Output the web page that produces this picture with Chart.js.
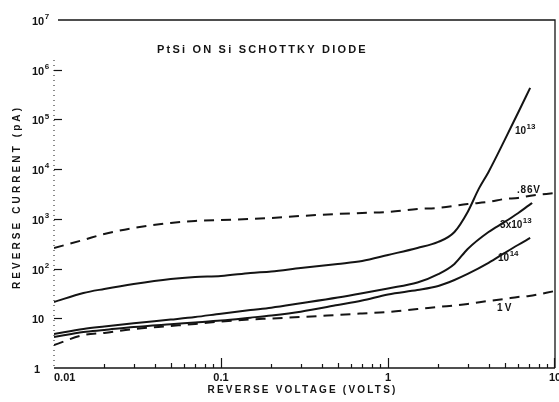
<!DOCTYPE html>
<html>
<head>
<meta charset="utf-8">
<style>
  html, body { margin: 0; padding: 0; background: #fff; }
  #wrap { width: 559px; height: 402px; }
</style>
<script src="https://cdn.jsdelivr.net/npm/chart.js@4.4.1/dist/chart.umd.min.js"></script>
</head>
<body>
<div id="wrap"><canvas id="c" width="559" height="402"></canvas></div>
<script>
// Reverse current (pA) against reverse voltage (V), PtSi on Si Schottky diode
const volts13   = [0.01, 0.015, 0.02, 0.03, 0.05, 0.07, 0.1, 0.15, 0.2, 0.3, 0.5, 0.7, 1, 1.5, 2, 2.5, 3, 3.5, 4, 5, 6, 7.1];
const current13 = [21.3, 32.3, 38.9, 49, 61.8, 67.8, 71, 81.5, 87.5, 103, 124, 142, 188, 260, 343, 545, 1377, 4050, 8790, 38700, 135000, 430000];

const volts3e13   = [0.01, 0.015, 0.02, 0.03, 0.05, 0.07, 0.1, 0.15, 0.2, 0.3, 0.5, 0.7, 1, 1.5, 2, 2.5, 3, 4, 5, 6, 7, 7.3];
const current3e13 = [4.83, 6.09, 6.84, 7.93, 9.42, 10.6, 12.4, 14.6, 16.3, 20.0, 26.1, 31.8, 39.8, 52.3, 77.1, 124, 248, 545, 866, 1297, 1890, 2089];

const volts14   = [0.01, 0.015, 0.02, 0.03, 0.05, 0.07, 0.1, 0.15, 0.2, 0.3, 0.5, 0.7, 1, 1.5, 2, 2.5, 3, 4, 5, 6, 7.1];
const current14 = [4.21, 5.30, 5.82, 6.68, 7.6, 8.23, 8.99, 10.3, 11.4, 13.6, 18.5, 22.8, 30.2, 37.1, 44.7, 59.0, 77.9, 130, 206, 298, 413];

const voltsBarrier = [0.01, 0.015, 0.02, 0.03, 0.05, 0.07, 0.1, 0.15, 0.2, 0.3, 0.5, 0.7, 1, 1.5, 2, 3, 4, 5, 6, 7, 10];
const current086V  = [260, 376, 497, 656, 827, 907, 950, 995, 1042, 1143, 1255, 1314, 1377, 1582, 1657, 1994, 2187, 2514, 2634, 2890, 3318];
const current1V    = [2.90, 4.6, 5.06, 6.09, 7.0, 7.68, 8.6, 9.5, 9.9, 10.6, 11.7, 12.5, 13.4, 15.4, 16.9, 19.4, 22.3, 24.5, 26.8, 28.1, 35.4];

const xTickValues = [0.01, 0.1, 1, 10];
const xTickLabels = ['0.01', '0.1', '1', '10'];
const yTickValues = [1, 10, 100, 1e3, 1e4, 1e5, 1e6, 1e7];
const yTickBase   = ['1', '10', '10', '10', '10', '10', '10', '10'];
const yTickExp    = ['', '', '2', '3', '4', '5', '6', '7'];

const INK = '#141414';
const FONT = '"Liberation Sans", Arial, sans-serif';

function pts(xs, ys) { return xs.map((x, i) => ({ x: x, y: ys[i] })); }

function curve(label, xs, ys, dashed) {
  return {
    label: label,
    data: pts(xs, ys),
    borderColor: INK,
    borderWidth: 2,
    borderDash: dashed ? [10, 7] : [],
    pointRadius: 0,
    fill: false,
    cubicInterpolationMode: 'monotone'
  };
}

function spaced(ctx, text, x, y, spacing) {
  ctx.letterSpacing = spacing + 'px';
  ctx.fillText(text, x, y);
  ctx.letterSpacing = '0px';
}

// Base text with a raised exponent, left aligned at x, vertically centred at y
function powerText(ctx, base, exp, x, y, size) {
  ctx.textAlign = 'left';
  ctx.textBaseline = 'middle';
  ctx.font = 'bold ' + size + 'px ' + FONT;
  ctx.fillText(base, x, y);
  const w = ctx.measureText(base).width;
  if (exp) {
    ctx.font = 'bold ' + Math.round(size * 0.75) + 'px ' + FONT;
    ctx.fillText(exp, x + w + 0.5, y - size * 0.45);
  }
}

const framePlugin = {
  id: 'frame',
  afterDatasetsDraw(chart) {
    const ctx = chart.ctx;
    const a = chart.chartArea;
    const xs = chart.scales.x, ys = chart.scales.y;
    ctx.save();
    ctx.strokeStyle = INK;
    ctx.fillStyle = INK;

    // frame
    ctx.lineWidth = 1.6;
    ctx.beginPath(); ctx.moveTo(a.left, a.bottom); ctx.lineTo(a.right, a.bottom); ctx.stroke();
    ctx.lineWidth = 1.3;
    ctx.beginPath(); ctx.moveTo(a.left + 4, a.top); ctx.lineTo(a.right, a.top); ctx.lineTo(a.right, a.bottom); ctx.stroke();
    ctx.lineWidth = 1;
    ctx.setLineDash([1, 4]);
    ctx.beginPath(); ctx.moveTo(a.left, a.top + 40); ctx.lineTo(a.left, a.bottom); ctx.stroke();
    ctx.setLineDash([]);

    // x ticks, pointing into the plot
    ctx.lineWidth = 1.2;
    [0.01, 0.1, 1].forEach(d => {
      for (let m = 1; m <= 9; m++) {
        const v = m * d;
        const px = Math.round(xs.getPixelForValue(v)) + 0.5;
        const h = m === 1 ? (d === 0.01 ? 0 : 10) : (m === 5 ? 5 : 4);
        if (!h) continue;
        ctx.beginPath(); ctx.moveTo(px, a.bottom); ctx.lineTo(px, a.bottom - h); ctx.stroke();
      }
    });
    const p10 = Math.round(xs.getPixelForValue(10)) - 0.5;
    ctx.beginPath(); ctx.moveTo(p10, a.bottom); ctx.lineTo(p10, a.bottom - 10); ctx.stroke();

    // y ticks
    yTickValues.forEach(v => {
      if (v === 1 || v === 1e7) return;
      const py = Math.round(ys.getPixelForValue(v)) + 0.5;
      ctx.beginPath(); ctx.moveTo(a.left, py); ctx.lineTo(a.left + 8, py); ctx.stroke();
    });

    // x tick labels
    ctx.font = 'bold 11px ' + FONT;
    ctx.textBaseline = 'middle';
    xTickValues.forEach((v, i) => {
      const px = xs.getPixelForValue(v);
      ctx.textAlign = i === 0 ? 'left' : 'center';
      ctx.fillText(xTickLabels[i], px, a.bottom + 10);
    });

    // y tick labels
    yTickValues.forEach((v, i) => {
      const py = ys.getPixelForValue(v);
      const lx = i === 0 ? a.left - 20 : a.left - 22;
      powerText(ctx, yTickBase[i], yTickExp[i], lx, py + 2, 11);
    });

    // axis titles
    ctx.font = 'bold 10px ' + FONT;
    ctx.textAlign = 'center';
    ctx.textBaseline = 'middle';
    spaced(ctx, 'REVERSE VOLTAGE (VOLTS)', (xs.getPixelForValue(0.1) + xs.getPixelForValue(1)) / 2 - 2, a.bottom + 22, 2.2);
    ctx.save();
    ctx.translate(17, (a.top + a.bottom) / 2 + 3);
    ctx.rotate(-Math.PI / 2);
    spaced(ctx, 'REVERSE CURRENT (pA)', 0, 0, 3.1);
    ctx.restore();

    // chart title
    ctx.font = 'bold 11px ' + FONT;
    ctx.textAlign = 'left';
    spaced(ctx, 'PtSi ON Si SCHOTTKY DIODE', a.left + 103, a.top + 30, 2.2);

    // curve labels
    powerText(ctx, '10', '13', xs.getPixelForValue(5.76), ys.getPixelForValue(58700), 10);
    ctx.font = 'bold 10px ' + FONT;
    ctx.textAlign = 'left';
    spaced(ctx, '.86V', xs.getPixelForValue(5.92), ys.getPixelForValue(3815), 0.8);
    powerText(ctx, '3x10', '13', xs.getPixelForValue(4.69), ys.getPixelForValue(754), 10);
    powerText(ctx, '10', '14', xs.getPixelForValue(4.56), ys.getPixelForValue(163), 10);
    ctx.font = 'bold 10px ' + FONT;
    ctx.textAlign = 'left';
    ctx.textBaseline = 'middle';
    spaced(ctx, '1V', xs.getPixelForValue(4.5), ys.getPixelForValue(16.1), 2);

    ctx.restore();
  }
};

new Chart(document.getElementById('c'), {
  type: 'line',
  data: {
    datasets: [
      curve('.86V', voltsBarrier, current086V, true),
      curve('1e13', volts13, current13, false),
      curve('3e13', volts3e13, current3e13, false),
      curve('1e14', volts14, current14, false),
      curve('1V', voltsBarrier, current1V, true)
    ]
  },
  options: {
    responsive: false,
    animation: false,
    devicePixelRatio: 1,
    layout: { padding: { left: 54, right: 4, top: 20, bottom: 34 } },
    plugins: { legend: { display: false }, tooltip: { enabled: false }, title: { display: false } },
    scales: {
      x: { type: 'logarithmic', min: 0.01, max: 10, display: false },
      y: { type: 'logarithmic', min: 1, max: 1e7, display: false }
    }
  },
  plugins: [framePlugin]
});
</script>
</body>
</html>
